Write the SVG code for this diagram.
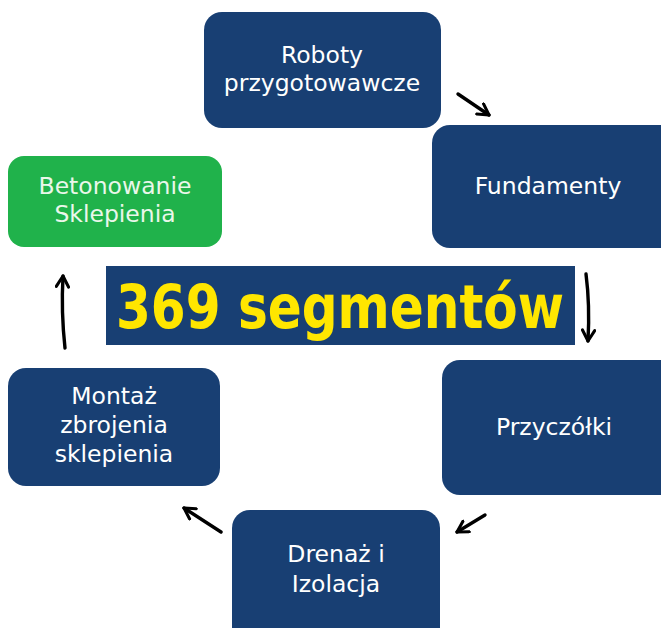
<svg xmlns="http://www.w3.org/2000/svg" width="661" height="628" viewBox="0 0 661 628">
<defs>
<style>
.blue{fill:#183f73}
.green{fill:#20b24b}
.t{font-family:"DejaVu Sans","Open Sans",sans-serif;font-size:23.5px;fill:#ffffff;text-anchor:middle}
.tg{fill:#eaf7ea}
.arr{fill:none;stroke:#000;stroke-width:3.4;stroke-linecap:round;marker-end:url(#ah)}
</style>
<marker id="ah" viewBox="0 0 10 10" refX="8" refY="5" markerWidth="4.5" markerHeight="4.5" orient="auto" markerUnits="strokeWidth">
<path d="M1,1 L8,5 L1,9" fill="none" stroke="#000" stroke-width="2" stroke-linecap="round" stroke-linejoin="round"/>
</marker>
</defs>
<rect width="661" height="628" fill="#ffffff"/>
<g id="title">
<rect x="106" y="266" width="469" height="79" fill="#183f73"/>
<text x="340" y="328" font-family="DejaVu Sans,sans-serif" font-weight="bold" font-size="61" fill="#ffe600" text-anchor="middle" textLength="448" lengthAdjust="spacingAndGlyphs">369 segmentów</text>
</g>
<g id="n1">
<rect class="blue" x="204" y="12" width="237" height="116" rx="18"/>
<text class="t" x="322" y="63">Roboty</text>
<text class="t" x="322" y="91">przygotowawcze</text>
</g>
<g id="n2">
<rect class="blue" x="432" y="125" width="250" height="123" rx="18"/>
<text class="t" x="548" y="194">Fundamenty</text>
</g>
<g id="n3">
<rect class="blue" x="442" y="360" width="240" height="135" rx="18"/>
<text class="t" x="554" y="435">Przyczółki</text>
</g>
<g id="n4">
<rect class="blue" x="232" y="510" width="208" height="140" rx="18"/>
<text class="t" x="336" y="562">Drenaż i</text>
<text class="t" x="336" y="592">Izolacja</text>
</g>
<g id="n5">
<rect class="blue" x="8" y="368" width="212" height="118" rx="18"/>
<text class="t" x="114" y="404">Montaż</text>
<text class="t" x="114" y="433">zbrojenia</text>
<text class="t" x="114" y="462">sklepienia</text>
</g>
<g id="n6">
<rect class="green" x="8" y="156" width="214" height="91" rx="16"/>
<text class="t tg" x="115" y="194">Betonowanie</text>
<text class="t tg" x="115" y="222">Sklepienia</text>
</g>
<g id="connectors">
<path class="arr" d="M458,94 L489,115"/>
<path class="arr" d="M586,274 Q590,305 588,341"/>
<path class="arr" d="M485,515 L457,532"/>
<path class="arr" d="M221,532 L184,508"/>
<path class="arr" d="M65,348 Q61,312 63,276"/>
</g>
</svg>
